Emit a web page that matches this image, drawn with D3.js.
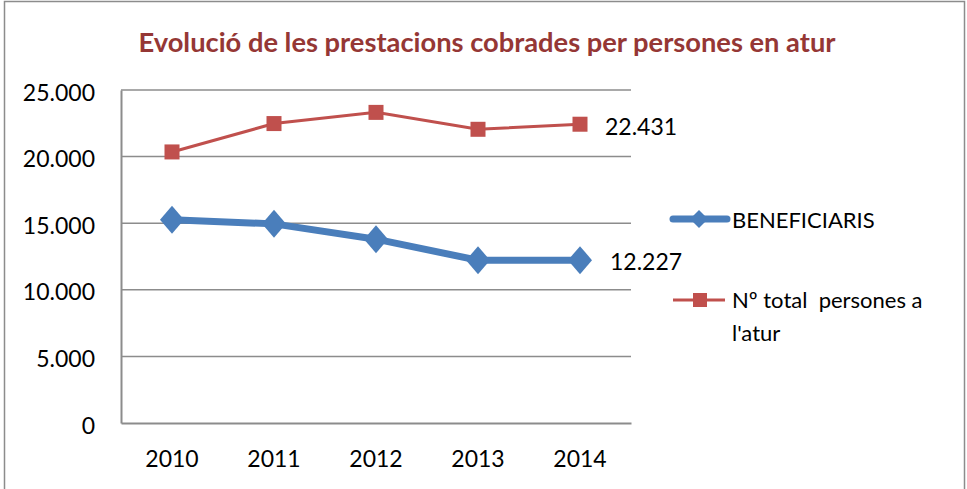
<!DOCTYPE html>
<html>
<head>
<meta charset="utf-8">
<script src="https://cdn.jsdelivr.net/npm/d3@7"></script>
<style>
  body { margin: 0; background: #fff; }
  svg text { font-family: Lato, "Open Sans", sans-serif; }
</style>
</head>
<body>
<div id="chart"></div>
<script>
var years = ['2010', '2011', '2012', '2013', '2014'];
var beneficiaris = [15250, 14950, 13800, 12220, 12227];
var aturTotal = [20350, 22480, 23320, 22050, 22431];
var yTicks = [0, 5000, 10000, 15000, 20000, 25000];
var seriesNames = ['BENEFICIARIS', 'Nº total  persones a', "l'atur"];

var width = 967, height = 489;
var plotLeft = 121, plotRight = 631, plotTop = 90, plotBottom = 423;

var loc = d3.formatLocale({ decimal: ',', thousands: '.', grouping: [3], currency: ['', ''] });
var fmt = loc.format(',d');

var svg = d3.select('#chart').append('svg')
    .attr('width', width)
    .attr('height', height);

// outer frame
svg.append('rect')
    .attr('x', 4.5).attr('y', 1.5)
    .attr('width', 960).attr('height', 500)
    .attr('fill', 'none').attr('stroke', '#8c8c8c').attr('stroke-width', 1.5);

svg.append('text')
    .attr('x', 487).attr('y', 52)
    .attr('text-anchor', 'middle')
    .attr('font-size', 26).attr('font-weight', 'bold')
    .attr('fill', '#953735')
    .attr('textLength', 697).attr('lengthAdjust', 'spacingAndGlyphs')
    .text('Evolució de les prestacions cobrades per persones en atur');

var x = d3.scaleBand().domain(years).range([plotLeft, plotRight]);
var y = d3.scaleLinear().domain([0, 25000]).range([plotBottom, plotTop]);

// gridlines
svg.append('g').selectAll('line')
    .data(yTicks.slice(1))
    .enter().append('line')
    .attr('x1', plotLeft).attr('x2', plotRight)
    .attr('y1', function (d) { return y(d); })
    .attr('y2', function (d) { return y(d); })
    .attr('stroke', '#8c8c8c').attr('stroke-width', 1.5);

var yAxis = svg.append('g')
    .attr('transform', 'translate(' + plotLeft + ',0)')
    .call(d3.axisLeft(y).tickValues(yTicks).tickFormat(fmt).tickSize(0).tickPadding(26));
yAxis.select('.domain').attr('stroke', '#8c8c8c').attr('stroke-width', 2);
yAxis.selectAll('.tick text').attr('font-size', 23).attr('fill', '#000').attr('dy', '0.44em')
    .attr('font-family', 'Lato, "Open Sans", sans-serif');

var xAxis = svg.append('g')
    .attr('transform', 'translate(0,' + plotBottom + ')')
    .call(d3.axisBottom(x).tickSize(0).tickPadding(28));
xAxis.select('.domain').attr('stroke', '#8c8c8c').attr('stroke-width', 2);
xAxis.selectAll('.tick text').attr('font-size', 23).attr('fill', '#000')
    .attr('font-family', 'Lato, "Open Sans", sans-serif');

var cx = function (d, i) { return x(years[i]) + x.bandwidth() / 2; };
var line = d3.line()
    .x(function (d, i) { return cx(d, i); })
    .y(function (d) { return y(d); });

// red series
svg.append('path').datum(aturTotal)
    .attr('d', line).attr('fill', 'none')
    .attr('stroke', '#c0504d').attr('stroke-width', 3);
svg.append('g').selectAll('rect')
    .data(aturTotal).enter().append('rect')
    .attr('x', function (d, i) { return cx(d, i) - 7.5; })
    .attr('y', function (d) { return y(d) - 7.5; })
    .attr('width', 15).attr('height', 15)
    .attr('fill', '#c0504d');

// blue series
svg.append('path').datum(beneficiaris)
    .attr('d', line).attr('fill', 'none')
    .attr('stroke', '#4a7ebb').attr('stroke-width', 7);
svg.append('g').selectAll('path')
    .data(beneficiaris).enter().append('path')
    .attr('d', 'M0,-14L12,0L0,14L-12,0Z')
    .attr('transform', function (d, i) { return 'translate(' + cx(d, i) + ',' + y(d) + ')'; })
    .attr('fill', '#4a7ebb');

// end labels
svg.append('text')
    .attr('x', x(years[4]) + x.bandwidth() / 2 + 25).attr('y', y(aturTotal[4]) + 11)
    .attr('font-size', 23).attr('fill', '#000')
    .text(fmt(aturTotal[4]));
svg.append('text')
    .attr('x', x(years[4]) + x.bandwidth() / 2 + 30).attr('y', y(beneficiaris[4]) + 10)
    .attr('font-size', 23).attr('fill', '#000')
    .text(fmt(beneficiaris[4]));

// legend
var lg = svg.append('g');
lg.append('line').attr('x1', 673).attr('x2', 727).attr('y1', 219).attr('y2', 219)
    .attr('stroke', '#4a7ebb').attr('stroke-width', 7).attr('stroke-linecap', 'round');
lg.append('path').attr('d', 'M0,-9L9,0L0,9L-9,0Z')
    .attr('transform', 'translate(699,219)').attr('fill', '#4a7ebb');
lg.append('text').attr('x', 732).attr('y', 228).attr('font-size', 22).text(seriesNames[0]);

lg.append('line').attr('x1', 673).attr('x2', 725).attr('y1', 300).attr('y2', 300)
    .attr('stroke', '#c0504d').attr('stroke-width', 3);
lg.append('rect').attr('x', 693).attr('y', 293).attr('width', 14).attr('height', 14)
    .attr('fill', '#c0504d');
lg.append('text').attr('x', 732).attr('y', 308).attr('font-size', 22)
    .style('white-space', 'pre').text(seriesNames[1]);
lg.append('text').attr('x', 732).attr('y', 341).attr('font-size', 22).text(seriesNames[2]);
</script>
</body>
</html>
